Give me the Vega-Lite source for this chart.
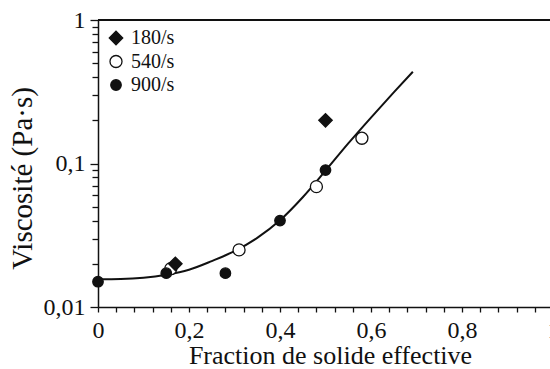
{
  "$schema": "https://vega.github.io/schema/vega-lite/v6.json",
  "width": 455,
  "height": 287,
  "autosize": "none",
  "padding": {"left": 98, "top": 20, "right": -3, "bottom": 62},
  "background": "white",
  "datasets": {
    "courbe": [
      {"fraction": 0.0, "viscosite": 0.0156},
      {"fraction": 0.05, "viscosite": 0.01567},
      {"fraction": 0.1, "viscosite": 0.016},
      {"fraction": 0.15, "viscosite": 0.0168},
      {"fraction": 0.2, "viscosite": 0.0182},
      {"fraction": 0.25, "viscosite": 0.0209},
      {"fraction": 0.3, "viscosite": 0.0245},
      {"fraction": 0.35, "viscosite": 0.0303},
      {"fraction": 0.4, "viscosite": 0.0402},
      {"fraction": 0.45, "viscosite": 0.0582},
      {"fraction": 0.5, "viscosite": 0.0891},
      {"fraction": 0.55, "viscosite": 0.138},
      {"fraction": 0.6, "viscosite": 0.209},
      {"fraction": 0.65, "viscosite": 0.313},
      {"fraction": 0.692, "viscosite": 0.436}
    ],
    "mesures": [
      {"fraction": 0.16, "viscosite": 0.0185, "cisaillement": "540/s"},
      {"fraction": 0.31, "viscosite": 0.025, "cisaillement": "540/s"},
      {"fraction": 0.48, "viscosite": 0.069, "cisaillement": "540/s"},
      {"fraction": 0.58, "viscosite": 0.15, "cisaillement": "540/s"},
      {"fraction": 0.0, "viscosite": 0.015, "cisaillement": "900/s"},
      {"fraction": 0.15, "viscosite": 0.0172, "cisaillement": "900/s"},
      {"fraction": 0.28, "viscosite": 0.0172, "cisaillement": "900/s"},
      {"fraction": 0.4, "viscosite": 0.04, "cisaillement": "900/s"},
      {"fraction": 0.5, "viscosite": 0.09, "cisaillement": "900/s"},
      {"fraction": 0.17, "viscosite": 0.02, "cisaillement": "180/s"},
      {"fraction": 0.5, "viscosite": 0.2, "cisaillement": "180/s"}
    ]
  },
  "config": {
    "view": {"stroke": null},
    "font": "Liberation Serif",
    "axis": {
      "grid": false,
      "domainColor": "#111",
      "domainWidth": 1.5,
      "tickColor": "#111",
      "tickWidth": 1.3,
      "labelColor": "#111",
      "titleColor": "#111",
      "labelFont": "Liberation Serif",
      "titleFont": "Liberation Serif",
      "labelFontSize": 24,
      "titleFontSize": 26,
      "titleFontWeight": "normal"
    }
  },
  "encoding": {
    "x": {
      "field": "fraction",
      "type": "quantitative",
      "scale": {"domain": [0, 1], "nice": false, "zero": false},
      "axis": {
        "title": "Fraction de solide effective",
        "values": [0, 0.04, 0.08, 0.12, 0.16, 0.2, 0.24, 0.28, 0.32, 0.36, 0.4, 0.44, 0.48, 0.52, 0.56, 0.6, 0.64, 0.68, 0.72, 0.76, 0.8, 0.84, 0.88, 0.92, 0.96, 1],
        "labelExpr": "abs(datum.value * 5 - round(datum.value * 5)) < 0.001 ? (datum.value < 0.001 ? '0' : datum.value > 0.999 ? '1' : replace(format(datum.value, '.1f'), '.', ',')) : ''",
        "tickSize": 5,
        "labelPadding": 6,
        "labelFlush": false,
        "labelOverlap": false,
        "labelBound": false,
        "titleX": 232,
        "titleY": 56,
        "titleAnchor": null,
        "titleAlign": "center",
        "titleBaseline": "alphabetic"
      }
    },
    "y": {
      "field": "viscosite",
      "type": "quantitative",
      "scale": {"type": "log", "domain": [0.01, 1], "nice": false},
      "axis": {
        "title": "Viscosité (Pa·s)",
        "values": [0.01, 0.02, 0.03, 0.04, 0.05, 0.06, 0.07, 0.08, 0.09, 0.1, 0.2, 0.3, 0.4, 0.5, 0.6, 0.7, 0.8, 0.9, 1],
        "labelExpr": "datum.value == 0.01 ? '0,01' : datum.value == 0.1 ? '0,1' : datum.value == 1 ? '1' : ''",
        "tickSize": {"condition": {"test": "datum.value == 0.01 || datum.value == 0.1 || datum.value == 1", "value": 8}, "value": 6},
        "labelPadding": 5,
        "labelFlush": false,
        "labelOverlap": false,
        "titleFontSize": 29,
        "titleX": -67,
        "titleY": 158,
        "titleAnchor": null,
        "titleAlign": "center",
        "titleBaseline": "alphabetic"
      }
    }
  },
  "layer": [
    {
      "data": {"name": "courbe"},
      "mark": {"type": "line", "color": "#111", "strokeWidth": 2, "interpolate": "monotone"}
    },
    {
      "data": {"name": "courbe"},
      "mark": {"type": "rule", "color": "#111", "strokeWidth": 1.5},
      "encoding": {
        "x": null,
        "y": {"datum": 1, "type": "quantitative"}
      }
    },
    {
      "data": {"name": "mesures"},
      "mark": {"type": "point", "filled": true, "stroke": "#111", "strokeWidth": 1.3, "opacity": 1},
      "encoding": {
        "shape": {
          "field": "cisaillement",
          "type": "nominal",
          "title": null,
          "scale": {"domain": ["180/s", "540/s", "900/s"], "range": ["diamond", "circle", "circle"]},
          "legend": {
            "orient": "none",
            "legendX": 8,
            "legendY": 8,
            "padding": 0,
            "labelFont": "Liberation Serif",
            "labelFontSize": 20,
            "labelColor": "#111",
            "labelOffset": 5,
            "rowPadding": 3.5,
            "symbolStrokeColor": "#111",
            "symbolStrokeWidth": 1.3,
            "encode": {"symbols": {"update": {"stroke": {"value": "#111"}, "strokeWidth": {"value": 1.3}}}}
          }
        },
        "fill": {
          "field": "cisaillement",
          "type": "nominal",
          "title": null,
          "scale": {"domain": ["180/s", "540/s", "900/s"], "range": ["#111", "white", "#111"]}
        },
        "size": {
          "field": "cisaillement",
          "type": "nominal",
          "title": null,
          "scale": {"domain": ["180/s", "540/s", "900/s"], "range": [180, 110, 160]}
        }
      }
    }
  ]
}
